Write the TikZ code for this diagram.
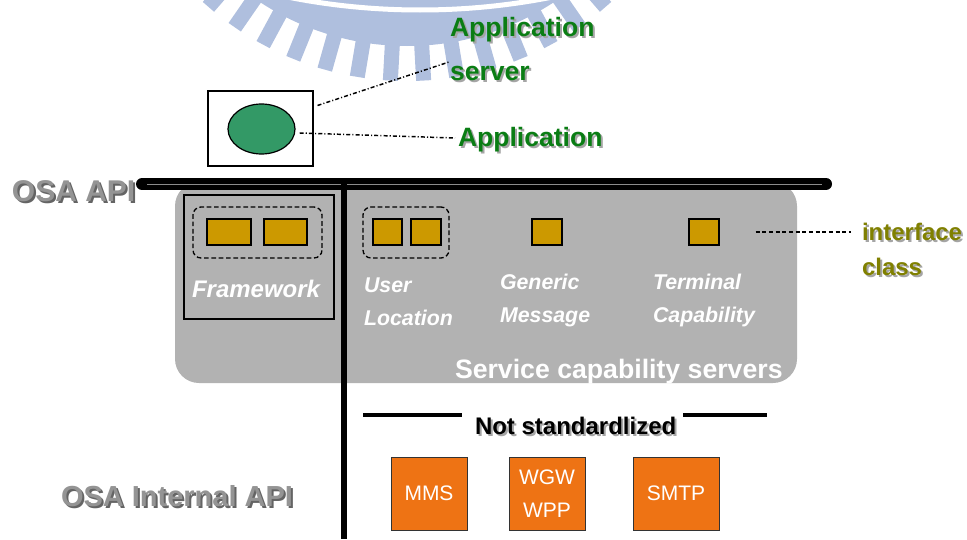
\documentclass[tikz,border=0pt]{standalone}
\usepackage{fontspec}
\setmainfont{Liberation Sans}
\usetikzlibrary{calc,shapes.geometric}

\definecolor{wmblue}{RGB}{175,191,222}
\definecolor{appgreen}{RGB}{10,125,20}
\definecolor{ellgreen}{RGB}{51,153,102}
\definecolor{panelgray}{RGB}{178,178,178}
\definecolor{ifyellow}{RGB}{204,153,0}
\definecolor{ifolive}{RGB}{128,128,0}
\definecolor{boxorange}{RGB}{238,115,20}
\definecolor{apigray}{RGB}{148,148,148}
\definecolor{apishadow}{RGB}{100,100,100}
\definecolor{softshadow}{RGB}{165,165,165}

\tikzset{
  lbl/.style={inner sep=0pt, outer sep=0pt, anchor=base west, align=left},
  bigbold/.style 2 args={font=\fontsize{#1}{#2}\selectfont\bfseries},
  ifbox/.style={draw=black, line width=0.8pt, fill=ifyellow, minimum height=19.5pt, inner sep=0pt},
  dashgroup/.style={draw=black, line width=1pt, dash pattern=on 3.5pt off 2pt, rounded corners=6pt, inner sep=0pt, minimum height=38.25pt},
  orbox/.style={draw=black!80, line width=0.6pt, fill=boxorange, minimum height=54.75pt, inner sep=0pt,
     text=white, align=center, font=\fontsize{15.75}{25}\selectfont},
  dashdot/.style={line width=1.1pt, dash pattern=on 3pt off 1.6pt on 0.8pt off 1.6pt},
  scsname/.style={lbl, text=white, font=\fontsize{16}{24.5}\selectfont\bfseries\itshape},
}

\begin{document}
\begin{tikzpicture}[x=0.75pt,y=-0.75pt]
\useasboundingbox (0,0) rectangle (967,539);

% gear emblem in the upper background
\begin{scope}
  \clip (0,0) rectangle (967,539);
  \fill[wmblue] (407,-222) circle[radius=268];
  \foreach \t in {3.15,9.45,15.75,22.05,28.35,34.65,40.95,47.25}{
    \draw[wmblue, line width=11.25pt]
      ({407+255*sin(\t)},{-222+255*cos(\t)}) -- ({407+303*sin(\t)},{-222+303*cos(\t)});
    \draw[wmblue, line width=11.25pt]
      ({407-255*sin(\t)},{-222+255*cos(\t)}) -- ({407-303*sin(\t)},{-222+303*cos(\t)});
  }
  \draw[white, line width=3.75pt] (420,-666) circle[radius=676];
\end{scope}

% application server with its application
\node[draw=black, line width=0.8pt, fill=white, minimum width=78.75pt, minimum height=56.25pt, inner sep=0pt]
  (srvbox) at (260.5,128.5) {};
\node[ellipse, draw=black, line width=0.9pt, fill=ellgreen, minimum width=50.25pt, minimum height=37.5pt, inner sep=0pt]
  (appell) at (261.5,129) {};

% multi-line labels are placed by the baseline of their last line
\node[lbl, bigbold={19.9}{33}, text=softshadow] (appsrvsh) at (452,82) {Application\\server};
\node[lbl, bigbold={19.9}{33}, text=appgreen] (appsrv) at (450,80) {Application\\server};
\node[lbl, bigbold={19.9}{20}, text=softshadow] (apptxtsh) at (460,148) {Application};
\node[lbl, bigbold={19.9}{20}, text=appgreen] (apptxt) at (458,146) {Application};

\draw[dashdot] ([shift={(4,15)}]srvbox.north east) -- ([shift={(-1,-18)}]appsrv.base west);
\draw[dashdot] ([shift={(4,4)}]appell.east) -- ([shift={(-3,-8)}]apptxt.base west);

% service capability panel
\fill[panelgray, rounded corners=18pt] (175,182) rectangle (797,383);

% framework
\node[draw=black, line width=0.8pt, minimum width=112.5pt, minimum height=93pt, inner sep=0pt] (fwbox) at (259,257) {};
\node[dashgroup, minimum width=96.75pt] (fwgroup) at (257.5,232.5) {};
\node[ifbox, minimum width=33pt] (fw1) at (229,232) {};
\node[ifbox, minimum width=32.25pt] (fw2) at (285.5,232) {};
\node[lbl, text=white, font=\fontsize{18}{18}\selectfont\bfseries\itshape] (fwtxt) at (192,297) {Framework};

% service capability servers
\node[dashgroup, minimum width=64.5pt] (ulgroup) at (406,232.5) {};
\node[ifbox, minimum width=21.75pt] (ul1) at (387.5,232) {};
\node[ifbox, minimum width=22.5pt] (ul2) at (426,232) {};
\node[ifbox, minimum width=22.5pt] (gmbox) at (547,232) {};
\node[ifbox, minimum width=22.5pt] (tcbox) at (704,232) {};

\node[scsname] (ultxt) at (364,325) {User\\Location};
\node[scsname] (gmtxt) at (500,322) {Generic\\Message};
\node[scsname] (tctxt) at (653,322) {Terminal\\Capability};
\node[lbl, text=white, bigbold={20}{20}] (scstxt) at (455,378) {Service capability servers};

% interface class
\node[lbl, bigbold={18}{26.25}, text=softshadow] (iftxtsh) at (864,277) {interface\\class};
\node[lbl, bigbold={18}{26.25}, text=ifolive] (iftxt) at (862,275) {interface\\class};
\draw[line width=1.1pt, dash pattern=on 3pt off 2pt] ([shift={(36,0)}]tcbox.east) -- ([shift={(-11,-43)}]iftxt.base west);

% OSA API bar and the internal line
\draw[line width=9pt, line cap=round] (142,184) -- (826,184);
\draw[black!45, line width=0.6pt] (147,184) -- (822,184);
\coordinate (vtop) at (344,184);
\coordinate (vbot) at (344,539);
\draw[line width=4.5pt] (vtop) -- (vbot);

\node[lbl, bigbold={22.5}{22.5}, text=apishadow] (osash) at (14,203) {OSA API};
\node[lbl, bigbold={22.5}{22.5}, text=apigray] (osa) at (12,201) {OSA API};

% not standardized part
\node[lbl, bigbold={18}{18}, text=softshadow] (nssh) at (477,436) {Not standardlized};
\node[lbl, bigbold={18}{18}, text=black] (nstxt) at (475,434) {Not standardlized};
\draw[line width=2.8pt] ([shift={(-112,-19)}]nstxt.base west) -- ([shift={(-13,-19)}]nstxt.base west);
\draw[line width=2.8pt] ([shift={(208,-19)}]nstxt.base west) -- ([shift={(292,-19)}]nstxt.base west);

\node[orbox, minimum width=57pt] (mms) at (429,493.5) {MMS};
\node[orbox, minimum width=57pt] (wgw) at (547,493.5) {WGW\\WPP};
\node[orbox, minimum width=64.5pt] (smtp) at (676,493.5) {SMTP};

\node[lbl, bigbold={21.75}{21.75}, text=apishadow] (intsh) at (63,508) {OSA Internal API};
\node[lbl, bigbold={21.75}{21.75}, text=apigray] (inttxt) at (61,506) {OSA Internal API};
\end{tikzpicture}
\end{document}
